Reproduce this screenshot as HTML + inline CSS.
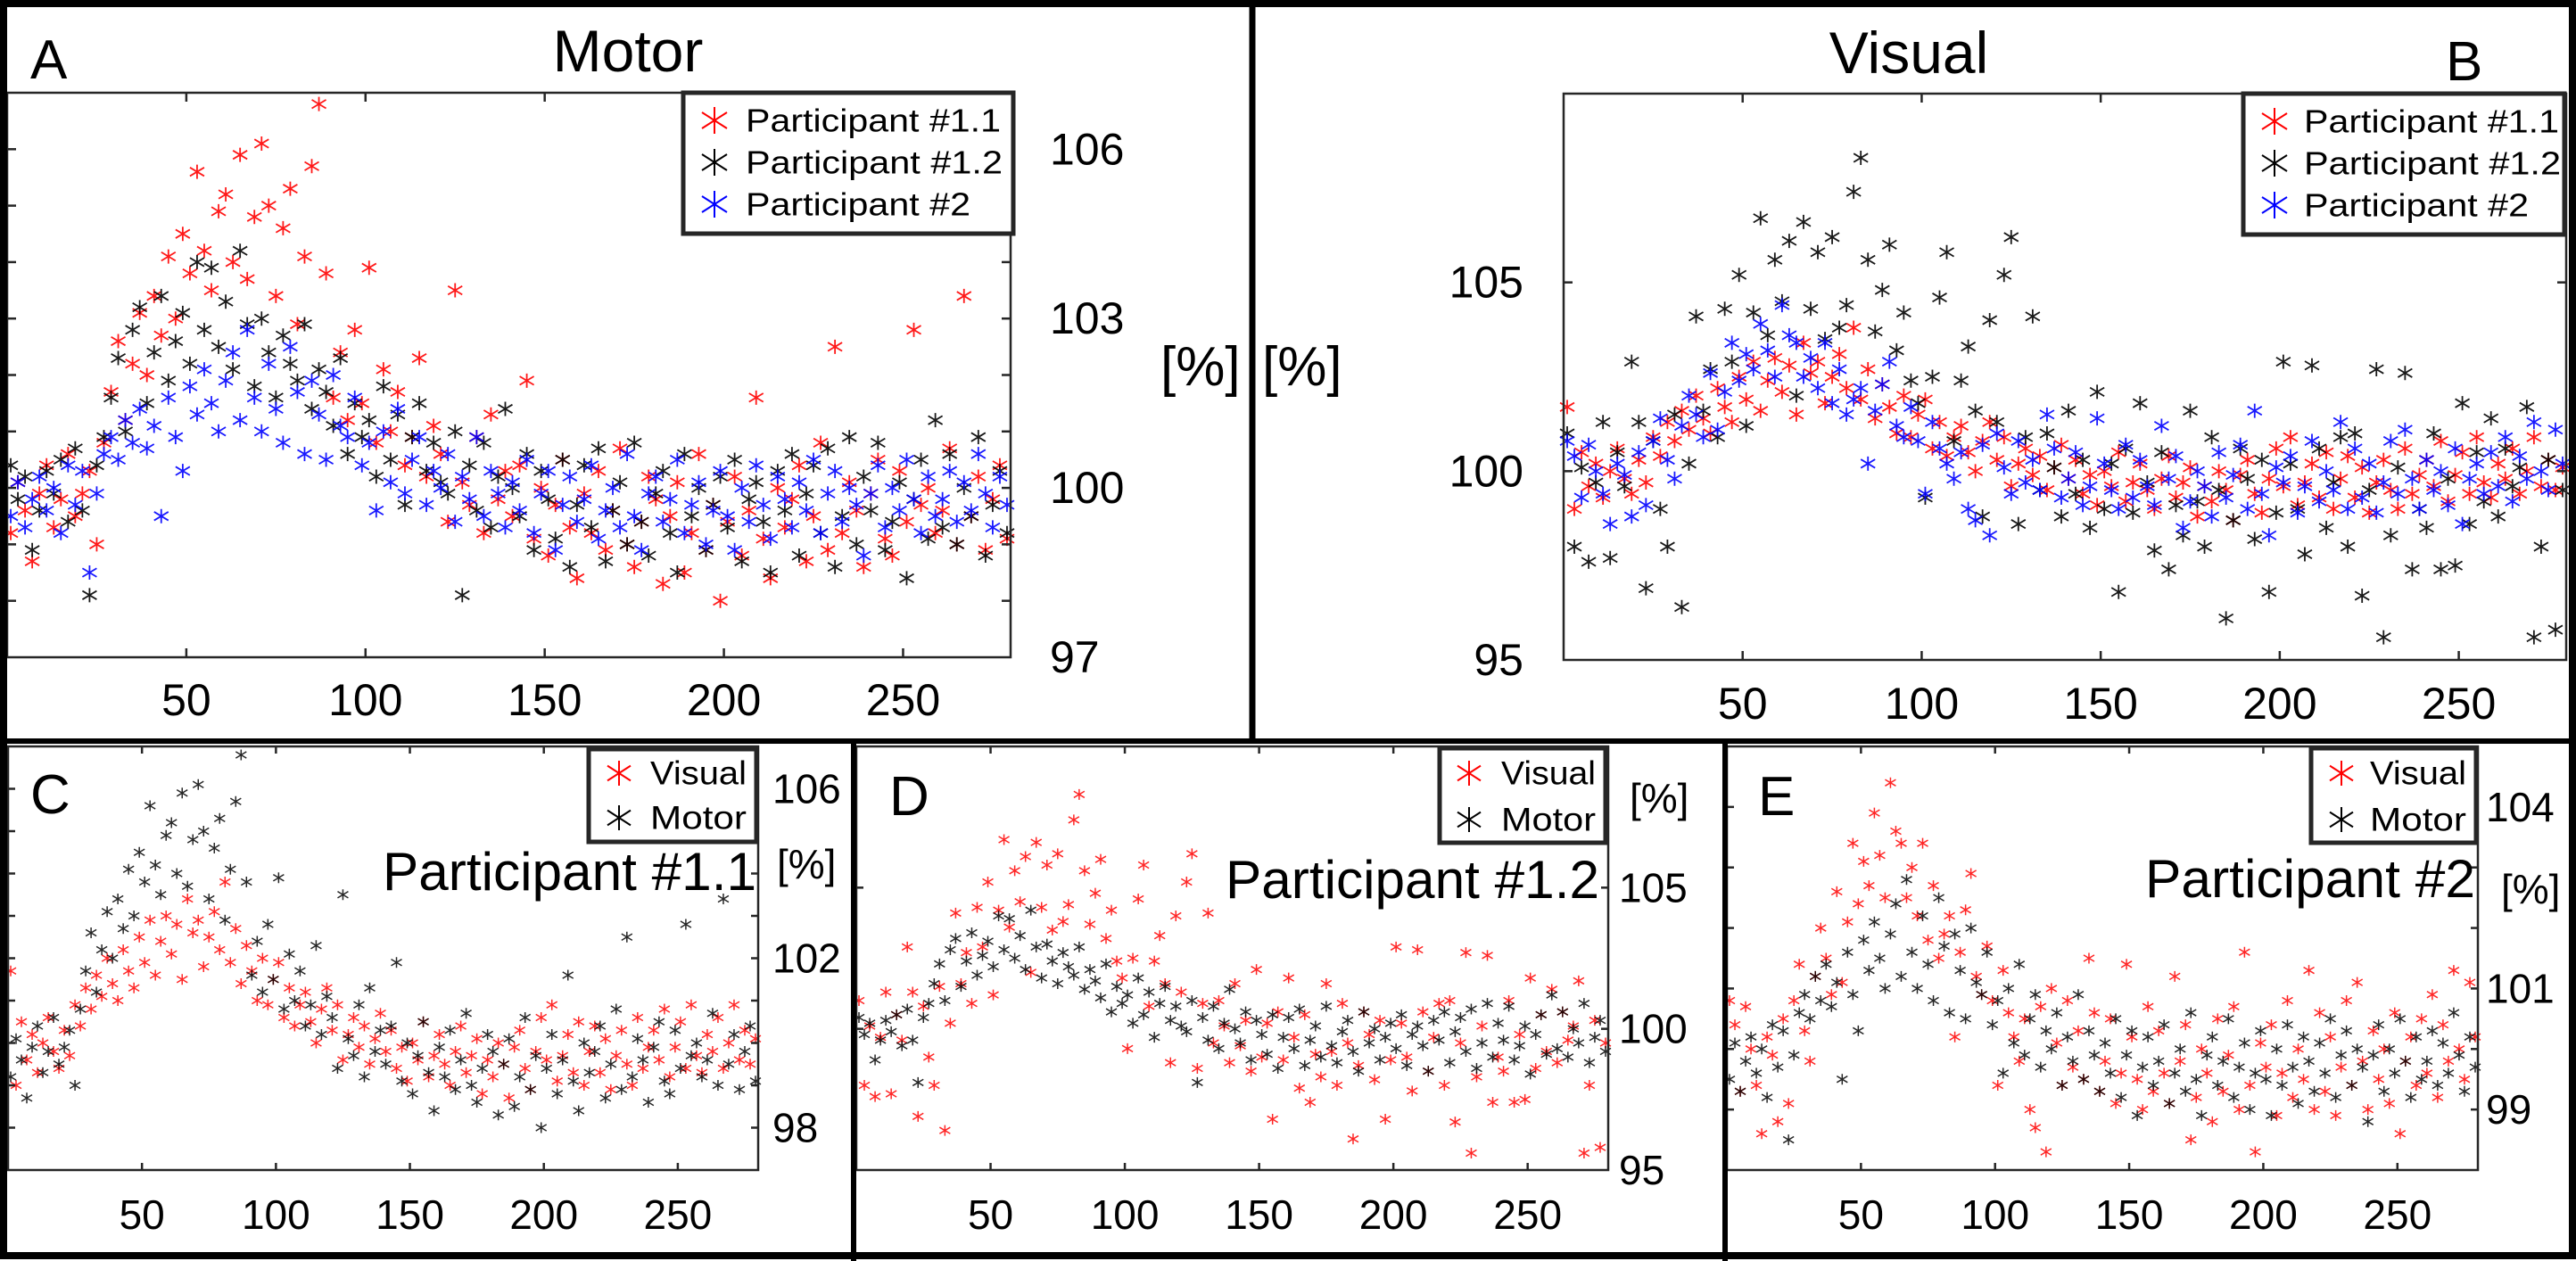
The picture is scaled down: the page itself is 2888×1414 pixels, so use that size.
<!DOCTYPE html>
<html>
<head>
<meta charset="utf-8">
<style>
  html,body{margin:0;padding:0;background:#fff;}
  svg{display:block;}
  text{font-family:"Liberation Sans Narrow","Liberation Sans",sans-serif;fill:#000;}
  .leg{font-family:"Liberation Sans",sans-serif;}
</style>
</head>
<body>
<svg id="fig" width="2888" height="1414" viewBox="0 0 2888 1414" xmlns="http://www.w3.org/2000/svg">
  <rect x="0" y="0" width="2888" height="1414" fill="#fff"/>
</svg>
<script>
// ---------- Data: trial index x = 1,3,5,...,279 ----------
const trialStep = 2;
// Motor condition
const motor11 = [99.2,100.1,99.6,98.7,99.9,100.4,99.3,99.8,100.6,99.5,
99.9,100.3,99.0,100.8,101.7,102.6,101.2,102.2,103.1,102.0,
103.4,102.7,104.1,103.0,104.5,103.8,105.6,104.2,103.5,104.9,
105.2,104.0,105.9,103.7,104.8,106.1,105.0,103.4,104.6,105.3,
102.9,104.1,105.7,106.8,103.8,101.6,102.4,101.2,102.8,101.5,
103.9,100.8,102.1,101.0,101.7,100.4,100.9,102.3,100.2,101.1,
100.6,99.4,103.5,100.1,99.7,100.9,99.2,101.3,99.8,100.3,
99.5,100.4,101.9,99.1,100.0,98.8,99.7,100.5,99.3,98.4,
99.9,99.2,100.3,98.9,99.6,100.7,99.0,98.6,99.4,100.2,
99.8,98.3,99.5,100.1,98.5,99.2,100.6,98.9,99.7,98.0,
99.4,100.2,98.8,99.6,101.6,99.1,98.4,100.0,99.3,99.8,
100.4,98.7,99.5,100.8,98.9,102.5,99.2,100.1,99.6,98.6,
99.9,100.5,99.1,98.8,100.3,99.4,102.8,99.7,100.0,99.2,
99.6,100.7,99.0,103.4,99.5,100.2,98.9,99.8,100.4,99.1];
const motor12 = [100.4,99.8,100.2,98.9,99.6,100.3,99.9,100.5,99.4,100.7,
99.6,98.1,100.4,100.9,101.6,102.3,101.0,102.8,103.2,101.5,
102.4,103.4,101.9,102.6,103.1,102.2,104.0,102.8,103.9,102.5,
103.3,102.1,104.2,102.9,101.8,103.0,102.4,101.6,102.7,102.2,
101.9,102.9,101.4,102.1,101.7,101.1,102.3,100.6,101.5,100.9,
101.2,100.2,101.8,100.5,101.3,99.7,100.9,101.5,100.3,100.8,
100.1,99.9,101.0,98.1,100.4,99.6,100.8,99.3,100.2,101.4,
100.0,99.5,100.6,98.9,100.3,99.8,99.1,100.5,98.6,99.7,
100.4,99.3,100.7,98.7,99.6,100.1,99.0,100.8,99.4,98.8,
99.9,100.3,99.2,98.5,100.6,99.5,100.0,98.9,99.7,100.2,
99.3,100.5,98.7,99.8,100.1,99.4,98.5,100.3,99.6,100.6,
98.8,99.9,100.4,99.2,100.7,98.6,99.5,100.9,99.0,100.2,
99.6,100.8,98.9,99.4,100.1,98.4,99.8,100.5,99.1,101.2,
99.3,100.6,99.0,100.0,99.5,100.9,98.8,99.7,100.3,99.2];
const motor2 = [99.5,100.1,99.3,99.8,100.2,99.6,100.0,99.2,100.4,99.7,
100.3,98.5,99.9,100.6,100.9,100.5,101.2,100.8,101.4,100.7,
101.1,99.5,101.6,100.9,100.3,101.8,101.3,102.1,101.5,101.0,
101.9,102.4,101.2,102.8,101.6,101.0,102.2,101.4,100.8,102.5,
101.7,100.6,101.9,101.3,100.5,102.0,101.1,100.9,101.6,100.4,
100.8,99.6,101.0,100.1,101.4,99.9,100.5,100.9,99.7,100.3,
100.0,100.6,99.4,100.2,99.8,100.9,99.5,100.3,99.9,99.3,
100.1,99.6,100.5,99.2,99.9,100.3,98.9,99.7,100.2,99.4,
99.8,100.4,99.1,99.6,100.0,99.3,100.6,99.5,98.9,99.9,
100.2,99.4,99.8,100.5,99.2,99.7,100.1,99.0,99.6,100.3,
99.5,98.9,100.0,99.4,100.4,99.7,99.1,100.2,99.8,99.3,
100.1,99.6,100.5,99.2,99.9,100.3,99.4,100.0,99.7,98.8,
99.9,100.4,99.3,100.0,99.6,100.5,99.8,99.2,100.2,99.5,
99.8,100.3,99.4,100.1,99.6,100.6,99.9,99.3,100.2,99.7];
// Visual condition
const visual11 = [101.7,99.0,100.5,99.6,100.2,99.3,100.0,100.6,99.8,99.4,
100.3,99.7,100.9,100.4,101.3,100.8,101.6,101.1,102.0,101.4,
101.0,102.2,101.7,101.3,102.5,101.9,102.9,101.6,102.4,103.0,
102.1,102.8,101.5,103.4,102.6,102.9,101.8,102.5,103.1,102.2,
103.8,101.9,102.7,101.4,102.3,101.7,101.0,102.0,100.9,101.5,
101.9,100.6,101.3,100.4,100.9,101.2,100.5,100.0,100.8,101.3,
100.3,100.9,99.6,100.2,100.6,99.9,100.4,99.5,100.1,100.7,
99.8,100.3,99.4,99.9,99.1,100.0,99.6,100.5,99.2,99.7,
100.2,99.5,99.0,99.8,100.4,99.3,99.7,100.1,98.8,99.6,
99.2,100.0,99.5,98.7,99.9,100.3,99.4,98.9,99.8,100.6,
99.6,100.9,99.1,99.7,100.2,99.3,100.5,99.0,99.8,100.4,
99.3,100.1,98.9,99.7,100.3,99.5,99.0,100.6,99.4,99.9,
100.3,99.6,100.8,99.2,99.9,100.5,99.4,100.9,99.7,99.3,
100.2,99.8,100.6,99.4,100.0,100.9,99.6,100.3,99.5,100.1];
const visual12 = [101.0,98.0,100.1,97.6,99.7,101.3,97.7,100.5,99.6,102.9,
101.3,96.9,100.8,99.0,98.0,101.5,96.4,100.2,104.1,101.6,
102.7,100.9,104.3,102.9,105.2,101.2,104.2,106.7,103.6,105.6,
104.5,106.1,102.0,106.6,104.3,105.8,103.5,106.2,103.8,104.4,
107.4,108.3,105.6,103.7,104.8,106.0,103.2,104.2,102.4,101.8,
99.3,102.5,104.6,105.8,100.8,102.4,103.3,101.6,98.8,104.0,
101.3,105.2,106.2,98.6,100.9,104.1,99.5,101.0,100.1,98.8,
101.6,99.4,100.3,98.5,102.1,99.0,100.2,96.8,100.6,98.9,
101.8,99.7,97.9,100.5,97.4,99.1,98.3,101.6,99.2,98.0,
100.9,99.5,96.1,98.7,100.6,99.8,98.2,100.3,96.8,98.9,
102.9,100.2,99.0,97.8,102.8,100.6,98.5,99.7,100.9,98.0,
101.0,96.7,99.5,102.7,95.6,98.3,100.1,102.6,97.4,99.0,
98.5,101.0,97.4,99.8,97.5,101.8,98.6,100.5,99.2,101.4,
98.8,100.6,99.6,100.1,101.7,95.6,98.0,100.3,95.8,99.5];
const visual2 = [100.8,100.4,99.3,100.7,100.0,99.4,98.6,100.2,99.9,98.8,
100.5,99.1,100.8,101.4,100.3,99.8,101.2,102.0,101.5,100.9,
102.6,101.1,102.1,103.4,102.4,103.1,102.7,103.9,103.2,102.5,
104.4,103.6,103.4,102.5,103.0,102.2,103.4,101.8,102.7,101.5,
101.9,102.2,100.2,101.6,102.3,102.9,101.2,100.9,101.7,100.8,
99.4,101.3,100.6,100.2,99.8,100.5,99.0,98.7,100.7,98.3,
101.0,100.1,99.4,100.8,99.7,100.3,99.5,101.5,100.6,99.3,
99.8,100.5,99.1,99.6,101.4,100.2,99.5,99.0,100.7,99.3,
100.3,99.6,99.1,101.2,99.8,100.4,98.5,99.2,100.0,99.6,
98.8,100.5,99.3,99.9,100.7,99.0,101.6,99.4,98.3,100.1,
99.7,100.4,98.9,99.6,100.8,99.2,100.0,99.5,101.3,99.0,
100.6,99.3,100.2,98.9,99.7,100.8,99.4,101.1,99.8,99.0,
100.3,99.5,100.0,99.1,100.6,98.6,99.8,100.2,99.4,100.5,
99.6,100.9,99.2,100.4,99.8,101.3,100.0,99.5,101.1,100.2];
const xTickLabels = [50,100,150,200,250];
const yTicksA = [97,98,99,100,101,102,103,104,105,106,107];
const yLabelsA = [97,100,103,106];
const yTicksB = [95,100,105,110];
const yLabelsB = [95,100,105];
const yTicksC = [97,98,99,100,101,102,103,104,105,106,107];
const yLabelsC = [98,102,106];
const yTicksD = [95,100,105,110];
const yLabelsD = [95,100,105];
const yTicksE = [98,99,100,101,102,103,104,105];
const yLabelsE = [99,101,104];

const NS = "http://www.w3.org/2000/svg";
const svg = document.getElementById('fig');
function mk(tag, attrs, parent){
  const e = document.createElementNS(NS, tag);
  for (const k in attrs) e.setAttribute(k, attrs[k]);
  (parent||svg).appendChild(e);
  return e;
}
function star(g, cx, cy, hw, hh, color, sw, op){
  const d = `M${cx},${cy-hh}L${cx},${cy+hh}M${cx-hw},${cy-hh*0.6}L${cx+hw},${cy+hh*0.6}M${cx-hw},${cy+hh*0.6}L${cx+hw},${cy-hh*0.6}`;
  const p = mk('path', {d:d, stroke:color, 'stroke-width':sw, fill:'none', opacity:op}, g);
  return p;
}

function panel(cfg){
  const g = mk('g', {});
  
  
  const xs = v => cfg.l + (v - 0) / 280 * (cfg.r - cfg.l);
  const ys = v => cfg.b - (v - cfg.ymin) / (cfg.ymax - cfg.ymin) * (cfg.b - cfg.t);
  // series
  cfg.series.forEach(s => {
    const sg = mk('g', {}, g);
    
    
    s.data.forEach((v, i) => {
      const x = 1 + i * trialStep;
      if (v < cfg.ymin || v > cfg.ymax) return;
      const p = star(sg, xs(x), ys(v), cfg.mw, cfg.mh, s.color, cfg.msw, cfg.mop);
      
      
    });
  });
  // axes box
  const box = mk('rect', {x:cfg.l, y:cfg.t, width:cfg.r-cfg.l, height:cfg.b-cfg.t, fill:'none', stroke:'#262626', 'stroke-width':2.5}, g);
  
  
  // x ticks
  xTickLabels.forEach(v => {
    const X = xs(v);
    mk('line', {x1:X, x2:X, y1:cfg.b, y2:cfg.b-cfg.tl, stroke:'#262626','stroke-width':2.5}, g);
    mk('line', {x1:X, x2:X, y1:cfg.t, y2:cfg.t+cfg.tl, stroke:'#262626','stroke-width':2.5}, g);
    const t = mk('text', {x:X, y:cfg.xly, 'font-size':cfg.fs, 'text-anchor':'middle', 'dominant-baseline':'central'}, g);
    t.textContent = v;
    
    
  });
  cfg.yticks.forEach(v => {
    const Y = ys(v);
    if (v === cfg.ymin || v === cfg.ymax) return;
    mk('line', {x1:cfg.l, x2:cfg.l+cfg.tl, y1:Y, y2:Y, stroke:'#262626','stroke-width':2.5}, g);
    mk('line', {x1:cfg.r, x2:cfg.r-cfg.tl, y1:Y, y2:Y, stroke:'#262626','stroke-width':2.5}, g);
  });
  cfg.ylabels.forEach(v => {
    const t = mk('text', {x:cfg.ylx, y:ys(v), 'font-size':cfg.fs, 'text-anchor':cfg.yanchor, 'dominant-baseline':'central'}, g);
    t.textContent = v;
    
    
  });
  // legend
  const lg = mk('g', {}, g);
  
  
  const L = cfg.leg;
  mk('rect', {x:L.x, y:L.y, width:L.w, height:L.h, fill:'#fff', stroke:'#262626', 'stroke-width':5}, lg);
  cfg.series.forEach((s, i) => {
    const cy = L.y0 + i * L.dy;
    const e = mk('g', {}, lg);
    
    
    star(e, L.mx, cy, L.mw, L.mh, s.color, 2, 1);
    const t = mk('text', {x:L.tx, y:cy, 'font-size':L.fs, 'dominant-baseline':'central', class:'leg', textLength:s.tw, lengthAdjust:'spacingAndGlyphs'}, e);
    t.textContent = s.label;
  });
  return g;
}

const RED = '#ff0000', BLK = '#000000', BLU = '#0000ff';

panel({name:'panel-a-motor', l:8, r:1133, t:104, b:737, ymin:97, ymax:107,
  series:[{label:'Participant #1.1', data:motor11, color:RED, tw:286},
          {label:'Participant #1.2', data:motor12, color:BLK, tw:288},
          {label:'Participant #2', data:motor2, color:BLU, tw:252}],
  yticks:yTicksA, ylabels:yLabelsA, ylx:1177, yanchor:'start', xly:785, fs:50, tl:10,
  mw:8, mh:8, msw:1.8, mop:0.9,
  leg:{x:766, y:104, w:370, h:158, y0:135, dy:47, mx:801, mw:14, mh:15, tx:836, fs:36}});

panel({name:'panel-b-visual', l:1753, r:2877, t:105, b:740, ymin:95, ymax:110,
  series:[{label:'Participant #1.1', data:visual11, color:RED, tw:286},
          {label:'Participant #1.2', data:visual12, color:BLK, tw:288},
          {label:'Participant #2', data:visual2, color:BLU, tw:252}],
  yticks:yTicksB, ylabels:yLabelsB, ylx:1708, yanchor:'end', xly:789, fs:50, tl:10,
  mw:8, mh:8, msw:1.8, mop:0.9,
  leg:{x:2515, y:105, w:360, h:158, y0:136, dy:47, mx:2550, mw:14, mh:15, tx:2583, fs:36}});

panel({name:'panel-c-participant-1-1', l:9, r:850, t:837, b:1312, ymin:97, ymax:107,
  series:[{label:'Visual', data:visual11, color:RED, tw:108},
          {label:'Motor', data:motor11, color:BLK, tw:108}],
  yticks:yTicksC, ylabels:yLabelsC, ylx:866, yanchor:'start', xly:1362, fs:46, tl:8,
  mw:6, mh:6, msw:1.5, mop:0.85,
  leg:{x:660, y:840, w:188, h:104, y0:867, dy:50, mx:694, mw:13, mh:14, tx:729, fs:37}});

panel({name:'panel-d-participant-1-2', l:960, r:1803, t:837, b:1312, ymin:95, ymax:110,
  series:[{label:'Visual', data:visual12, color:RED, tw:106},
          {label:'Motor', data:motor12, color:BLK, tw:106}],
  yticks:yTicksD, ylabels:yLabelsD, ylx:1815, yanchor:'start', xly:1362, fs:46, tl:8,
  mw:6, mh:6, msw:1.5, mop:0.85,
  leg:{x:1614, y:839, w:186, h:106, y0:867, dy:52, mx:1647, mw:13, mh:14, tx:1683, fs:37}});

panel({name:'panel-e-participant-2', l:1936, r:2778, t:837, b:1312, ymin:98, ymax:105,
  series:[{label:'Visual', data:visual2, color:RED, tw:108},
          {label:'Motor', data:motor2, color:BLK, tw:108}],
  yticks:yTicksE, ylabels:yLabelsE, ylx:2787, yanchor:'start', xly:1362, fs:46, tl:8,
  mw:6, mh:6, msw:1.5, mop:0.85,
  leg:{x:2591, y:839, w:185, h:106, y0:867, dy:52, mx:2625, mw:13, mh:14, tx:2657, fs:37}});

// Static labels
function label(txt, x, y, fs, anchor, name, tl){
  const t = mk('text', {x:x, y:y, 'font-size':fs, 'text-anchor':anchor||'start'});
  if (tl){ t.setAttribute('textLength', tl); t.setAttribute('lengthAdjust','spacingAndGlyphs'); }
  t.textContent = txt;
  
  
}
label('Motor', 704, 80, 66, 'middle', 'panel-a-title');
label('Visual', 2140, 82, 66, 'middle', 'panel-b-title');
label('A', 34, 88, 62, 'start', 'panel-a-letter');
label('B', 2742, 90, 62, 'start', 'panel-b-letter');
label('[%]', 1301, 432, 62, 'start', 'panel-a-y-unit');
label('[%]', 1415, 432, 62, 'start', 'panel-b-y-unit');
label('C', 34, 912, 62, 'start', 'panel-c-letter');
label('D', 997, 914, 62, 'start', 'panel-d-letter');
label('E', 1971, 914, 62, 'start', 'panel-e-letter');
label('Participant #1.1', 429, 998, 60, 'start', 'panel-c-title', 419);
label('Participant #1.2', 1374, 1007, 60, 'start', 'panel-d-title', 419);
label('Participant #2', 2405, 1006, 60, 'start', 'panel-e-title', 370);
label('[%]', 871, 985, 46, 'start', 'panel-c-y-unit');
label('[%]', 1827, 911, 46, 'start', 'panel-d-y-unit');
label('[%]', 2804, 1013, 46, 'start', 'panel-e-y-unit');

// Frame and dividers
const fr = mk('g', {});


mk('rect', {x:4, y:4, width:2880, height:1404, fill:'none', stroke:'#000', 'stroke-width':8}, fr);
mk('line', {x1:0, x2:2888, y1:831, y2:831, stroke:'#000', 'stroke-width':6}, fr);
mk('line', {x1:1404, x2:1404, y1:0, y2:831, stroke:'#000', 'stroke-width':7}, fr);
mk('line', {x1:957, x2:957, y1:831, y2:1414, stroke:'#000', 'stroke-width':6}, fr);
mk('line', {x1:1934, x2:1934, y1:831, y2:1414, stroke:'#000', 'stroke-width':6}, fr);
</script>
</body>
</html>
